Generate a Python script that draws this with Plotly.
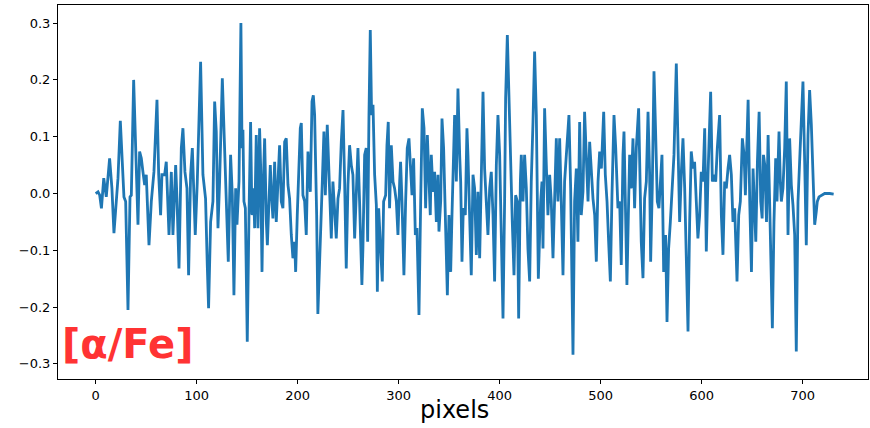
import plotly.graph_objects as go

# Turning points of the [alpha/Fe] trace (x in pixels, y in dex)
pixel_x = [
    0, 2.3, 4.0, 5.7, 8.0, 10.5, 13.8, 16.1, 18.1, 20.4, 22.1, 24.4, 28.0, 29.7, 32.0, 34.0, 35.3, 37.6,
    40.2, 41.9, 43.5, 45.2, 46.8, 48.5, 50.1, 52.8, 55.1, 57.7, 60.7, 62.4, 64.3, 65.6,
    68.3, 69.9, 72.6, 74.9, 76.5, 79.2, 80.5, 82.5, 84.8, 86.4, 88.4, 90.4, 92.0, 94.0, 95.7, 97.0, 98.6,
    100.6, 101.9, 103.9, 106.2, 108.8, 110.5, 111.8, 113.8, 116.1, 117.8, 119.4, 121.1, 122.7, 125.4,
    127.7, 129.3, 131.3, 133.6, 135.3, 136.9, 138.6, 139.9, 141.9, 143.8,
    144.9, 145.8, 146.8, 148.2, 150.1, 151.8, 153.4, 154.7, 156.4, 157.4, 159.0, 160.7, 162.3, 163.3,
    164.7, 166.0, 167.3, 169.0, 170.0, 171.6, 172.9, 173.9, 175.5, 177.2, 178.8, 180.5, 182.1, 183.8,
    185.4, 187.1, 188.7, 190.4, 192.0, 193.7, 195.3, 197.0, 198.0, 199.6, 200.9, 202.6, 203.6, 205.2,
    206.9, 208.5, 210.2, 211.2, 212.5, 214.2, 215.5, 216.8, 217.8, 218.8, 220.0,
    222.4, 224.4, 226.0, 227.4, 229.3, 231.0, 233.3, 234.9, 236.6, 238.2, 239.9, 241.5, 243.2, 244.9,
    246.5, 248.1, 249.8, 251.4, 253.1, 254.7, 256.4, 258.0, 259.7, 261.3, 263.6, 264.6, 266.3, 267.9,
    269.3, 270.6, 271.9, 273.2, 274.6, 276.2, 277.9, 278.9, 280.2, 282.1, 283.8, 285.1, 287.1, 288.4, 289.7,
    291.0, 292.7, 294.4, 296.0, 297.7, 299.3, 301.0, 301.9, 303.3, 305.2, 306.9, 308.5, 310.2, 311.8,
    313.2, 314.8, 316.5, 318.1, 320.1, 321.8, 323.4, 325.1, 326.7, 328.4, 329.7, 331.3, 332.3, 334.0,
    335.6, 337.3, 338.9, 339.9, 341.6, 342.9, 344.5, 346.2, 348.2, 349.8, 351.5, 352.8, 354.4, 355.4,
    357.1, 358.7, 360.4, 361.4, 362.7, 364.0, 366.0,
    367.6, 368.6, 370.3, 371.9, 373.6, 375.2, 376.9, 378.5, 380.2, 381.8, 383.5, 385.1, 386.8, 388.4,
    390.1, 391.7, 393.4, 395.0, 396.7, 398.3, 400.0, 401.6, 403.3, 404.9, 405.9, 407.6, 409.2, 410.5,
    412.5, 414.2, 415.8, 417.5, 418.8, 420.5, 421.4, 423.1, 424.7, 426.4, 428.0, 429.7, 431.3, 433.0,
    434.6, 436.3, 438.3,
    440.6, 441.9, 442.9, 444.5, 446.2, 447.8, 449.5, 451.1, 452.8, 454.4, 456.1, 457.7, 459.4, 461.0,
    462.7, 464.3, 466.0, 468.6, 470.3, 472.6, 474.2, 475.9, 477.5, 479.2, 480.8, 482.5, 484.1, 485.8,
    487.5, 489.1, 490.8, 492.4, 494.1, 495.7, 497.4, 499.0, 500.7, 503.0, 504.6, 506.3, 507.9, 509.6,
    511.2, 513.2, 514.9,
    517.1, 518.8, 520.4, 522.1, 523.1, 524.4, 526.0, 527.7, 528.7, 530.3, 532.0, 533.6, 535.3, 537.6,
    539.3, 540.2, 541.9, 543.5, 545.2, 546.9, 548.5, 549.5, 551.1, 552.8, 554.4, 556.1, 557.7, 559.4,
    560.7, 562.4, 564.3, 565.7, 567.3, 569.0, 571.0, 572.6, 574.9, 576.6, 578.2, 579.9, 581.5, 583.2,
    584.8, 586.5, 588.1,
    589.7, 591.4, 593.0, 594.7, 596.3, 598.0, 599.6, 601.3, 603.0, 604.6, 606.3, 608.9, 610.6, 612.2,
    613.9, 615.5, 617.8, 619.5, 621.1, 622.8, 624.4, 626.1, 627.7, 629.4, 631.0, 632.7, 635.0, 636.7,
    638.3, 640.3, 642.0, 643.3, 644.6, 646.0, 647.6, 649.3, 650.9, 652.6, 653.6, 655.2, 656.9, 658.5,
    659.9, 661.2, 662.5, 664.2, 665.8,
    667.3, 669.0, 670.0, 671.6, 673.3, 674.6, 676.6, 677.9, 678.9, 680.5, 682.2, 683.8, 685.5, 687.1,
    688.8, 690.4, 692.1, 693.7, 695.4, 697.0, 698.7, 700.3, 702.0, 703.6, 705.3, 706.9, 708.6, 710.2,
    711.9, 713.5, 714.5, 716.2, 718.5, 721.8, 726.8, 730.7,
]

alpha_fe = [
    0.000, 0.003, -0.003, -0.026, 0.027, -0.006, 0.062, 0.009, -0.070, -0.009, 0.027, 0.128, -0.006, -0.014, -0.205, -0.006, -0.003, 0.200,
    0.050, -0.055, 0.074, 0.062, 0.038, 0.015, 0.033, -0.091, -0.014, 0.038, 0.165, 0.033, -0.038, 0.033,
    0.033, 0.056, -0.073, 0.038, -0.073, 0.050, -0.009, -0.132, 0.080, 0.115, 0.038, 0.009, -0.144, 0.033, 0.080, 0.009, -0.073,
    0.021, 0.097, 0.232, 0.033, -0.009, -0.126, -0.202, -0.050, -0.014, 0.162, 0.109, -0.061, 0.021, 0.203,
    0.068, 0.009, -0.120, 0.068, -0.003, -0.179, 0.009, -0.055, 0.021, 0.300,
    0.080, 0.112, -0.014, -0.026, -0.261, -0.038, 0.126, -0.038, 0.009, -0.061, 0.103, -0.061, 0.115, 0.050,
    -0.138, 0.021, 0.097, -0.050, -0.091, -0.014, 0.050, 0.003, -0.044, 0.056, -0.050, 0.021, 0.085, -0.014,
    -0.026, 0.091, 0.097, 0.015, -0.009, -0.073, -0.114, -0.085, -0.138, -0.038, 0.021, 0.115, 0.124, -0.003,
    -0.014, -0.073, 0.074, 0.033, 0.003, 0.162, 0.173, 0.138, 0.068, -0.038, -0.212,
    -0.061, 0.021, 0.109, -0.003, 0.121, 0.044, -0.079, 0.021, -0.038, -0.079, -0.009, 0.009, 0.091, 0.147,
    0.021, -0.132, 0.015, 0.085, 0.050, 0.033, -0.079, -0.014, 0.080, -0.014, -0.161, -0.097, 0.068, 0.080,
    -0.085, 0.138, 0.288, 0.138, 0.156, 0.033, -0.020, -0.173, -0.026, -0.097, -0.155, -0.014, -0.003, 0.085, 0.126,
    -0.026, 0.085, 0.021, 0.009, -0.014, -0.073, 0.021, 0.056, -0.014, -0.144, -0.014, 0.080, 0.097, 0.050,
    -0.003, 0.062, -0.073, -0.061, -0.214, -0.014, 0.150, 0.115, -0.026, 0.103, 0.050, -0.038, 0.068, 0.003,
    0.038, -0.050, 0.033, -0.067, -0.014, 0.132, 0.080, -0.038, -0.179, -0.038, -0.138, -0.038, 0.109, 0.138,
    0.021, 0.185, 0.068, 0.021, -0.120, -0.026, -0.038,
    0.115, 0.068, -0.026, -0.144, 0.033, 0.009, -0.108, 0.003, -0.114, 0.033, 0.179, 0.044, -0.014, -0.073,
    0.009, 0.038, -0.038, -0.155, 0.050, 0.138, 0.068, -0.050, -0.220, -0.014, 0.168, 0.279, 0.168, 0.056,
    -0.050, -0.144, -0.003, -0.014, -0.220, 0.021, 0.068, -0.014, 0.068, 0.009, -0.097, -0.155, 0.021, 0.126,
    0.250, 0.138, -0.150,
    -0.014, 0.021, -0.097, 0.150, 0.050, -0.038, 0.033, -0.014, -0.114, 0.009, 0.097, -0.014, 0.097, -0.014,
    -0.144, 0.021, 0.068, 0.138, 0.009, -0.284, -0.014, 0.044, -0.085, 0.126, -0.038, 0.003, 0.144, 0.068,
    -0.014, 0.091, 0.038, -0.009, -0.038, -0.120, 0.021, 0.074, 0.044, 0.144, 0.033, -0.014, -0.085, -0.155,
    -0.003, 0.138, 0.080,
    -0.026, -0.014, -0.126, 0.068, 0.109, -0.009, -0.161, -0.014, 0.068, 0.009, 0.097, -0.026, 0.080, 0.150,
    0.003, -0.085, -0.149, -0.009, 0.021, 0.144, 0.033, -0.120, 0.009, 0.215, 0.109, -0.014, -0.026, 0.021,
    0.068, -0.138, -0.073, -0.226, -0.097, -0.050, 0.021, 0.068, 0.229, 0.097, -0.050, 0.038, 0.097, 0.009,
    -0.097, -0.243, -0.050,
    0.074, 0.044, 0.056, -0.014, -0.079, -0.038, 0.038, 0.021, 0.115, -0.102, 0.033, 0.179, 0.021, 0.033,
    0.021, 0.080, 0.138, -0.038, -0.108, 0.021, 0.009, 0.044, 0.068, 0.033, -0.050, -0.026, -0.155, -0.038,
    -0.014, 0.097, 0.068, -0.003, 0.080, 0.165, -0.014, -0.138, 0.044, -0.038, -0.085, 0.056, 0.144, -0.014,
    -0.044, 0.068, 0.050, -0.050, 0.103,
    -0.014, -0.126, -0.237, -0.050, 0.062, -0.014, 0.109, 0.021, -0.014, 0.009, 0.080, 0.197, -0.073, 0.097,
    0.015, -0.020, -0.073, -0.278, -0.014, 0.056, 0.138, 0.197, 0.056, -0.091, 0.103, 0.182, 0.121, 0.015,
    -0.055, -0.032, -0.014, -0.006, -0.003, 0.000, 0.000, -0.001,
]

x_ticks = [0, 100, 200, 300, 400, 500, 600, 700]
y_ticks = [-0.3, -0.2, -0.1, 0.0, 0.1, 0.2, 0.3]
x_title = "pixels"
label_text = "[α/Fe]"

fig = go.Figure()
fig.add_trace(go.Scatter(
    x=pixel_x, y=alpha_fe, mode="lines",
    line=dict(color="#1f77b4", width=2.8),
    hoverinfo="skip", showlegend=False,
))

axis_common = dict(
    showline=True, linecolor="black", linewidth=1, mirror=True,
    ticks="outside", ticklen=4, tickwidth=1, tickcolor="black",
    showgrid=False, zeroline=False,
    tickfont=dict(family="DejaVu Sans", size=13, color="black"),
)

fig.update_xaxes(range=[-37.3, 764.7], tickvals=x_ticks, **axis_common)
fig.update_yaxes(range=[-0.3266, 0.3319], tickvals=y_ticks, tickformat=".1f", **axis_common)

fig.add_annotation(
    text=x_title, xref="paper", yref="paper", x=0.49, y=-0.083,
    xanchor="center", yanchor="middle", showarrow=False,
    font=dict(family="DejaVu Sans", size=24, color="black"),
)
fig.add_annotation(
    text=label_text, xref="paper", yref="paper", x=0.0858, y=0.0936,
    xanchor="center", yanchor="middle", showarrow=False,
    font=dict(family="DejaVu Sans", size=40, color="#ff3333", weight="bold"),
)

fig.update_layout(
    width=870, height=428,
    margin=dict(l=58, r=2, t=5, b=49),
    paper_bgcolor="white", plot_bgcolor="white",
)

fig.write_html(
    "out.html",
    config={"displayModeBar": False},
    post_script="document.body.style.margin='0';document.body.style.overflow='hidden';",
)
